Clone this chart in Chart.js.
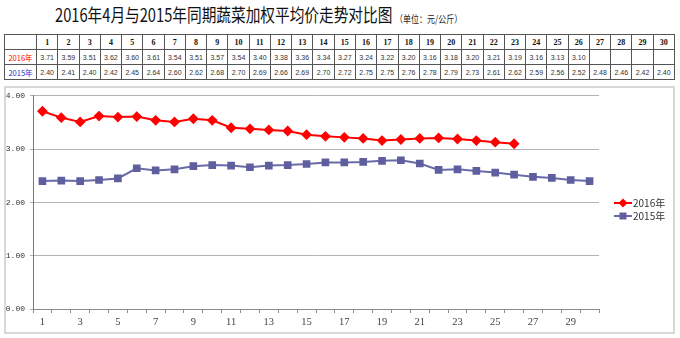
<!DOCTYPE html>
<html>
<head>
<meta charset="utf-8">
<script src="https://cdn.jsdelivr.net/npm/chart.js@4"></script>
<style>
  html, body { margin: 0; padding: 0; background: #fff; }
  body { width: 680px; height: 338px; position: relative; overflow: hidden; font-family: "Noto Sans CJK SC", sans-serif; }
  #title { position: absolute; left: 55px; top: 3px; font-size: 18px; color: #111; white-space: nowrap;
           transform: scaleX(0.815); transform-origin: left top; line-height: 22px; }
  #unit { position: absolute; left: 395px; top: 12px; font-size: 10px; color: #222; white-space: nowrap;
          transform: scaleX(0.8); transform-origin: left top; line-height: 14px; }
  #table { position: absolute; left: 4px; top: 34px; width: 671px; border-collapse: collapse; table-layout: fixed; }
  #table td { border: 1px solid #555; height: 14px; padding: 0; text-align: center; font-family: "Liberation Sans", sans-serif;
              font-size: 7px; color: #333; white-space: nowrap; overflow: hidden; }
  #table tr.head td { font-family: "Liberation Serif", serif; font-weight: bold; font-size: 8px; color: #111; }
  #table td.lab { font-family: "Noto Sans CJK SC", sans-serif; font-size: 7.5px; }
  #box { position: absolute; left: 4px; top: 86px; width: 671px; height: 248px; border: 2px solid #d8d8d8; box-sizing: border-box; }
  #chart { position: absolute; left: 4px; top: 86px; }
</style>
</head>
<body>
<div id="title">2016年4月与2015年同期蔬菜加权平均价走势对比图</div>
<div id="unit">（单位：元/公斤）</div>
<table id="table"></table>
<div id="box"></div>
<canvas id="chart" width="670" height="247"></canvas>
<script>
const days = ['1','2','3','4','5','6','7','8','9','10','11','12','13','14','15','16','17','18','19','20','21','22','23','24','25','26','27','28','29','30'];
const price2016 = [3.71,3.59,3.51,3.62,3.60,3.61,3.54,3.51,3.57,3.54,3.40,3.38,3.36,3.34,3.27,3.24,3.22,3.20,3.16,3.18,3.20,3.21,3.19,3.16,3.13,3.10];
const price2015 = [2.40,2.41,2.40,2.42,2.45,2.64,2.60,2.62,2.68,2.70,2.69,2.66,2.69,2.70,2.72,2.75,2.75,2.76,2.78,2.79,2.73,2.61,2.62,2.59,2.56,2.52,2.48,2.46,2.42,2.40];
const seriesNames = ['2016年', '2015年'];
const yTicks = [0, 1, 2, 3, 4];

const red = '#ff0000';
const purple = '#5f5f9f';

// table above the chart
const table = document.getElementById('table');
let html = '<colgroup><col style="width:32px">' + days.map(() => '<col>').join('') + '</colgroup>';
html += '<tr class="head"><td></td>' + days.map(d => `<td>${d}</td>`).join('') + '</tr>';
html += `<tr><td class="lab" style="color:${red}">${seriesNames[0]}</td>` +
        days.map((d, i) => `<td>${price2016[i] !== undefined ? price2016[i].toFixed(2) : ''}</td>`).join('') + '</tr>';
html += `<tr><td class="lab" style="color:#2b2bd0">${seriesNames[1]}</td>` +
        days.map((d, i) => `<td>${price2015[i] !== undefined ? price2015[i].toFixed(2) : ''}</td>`).join('') + '</tr>';
table.innerHTML = html;

// legend: line - marker - line, then label
const legendPlugin = {
    id: 'sideLegend',
    afterDraw(chart) {
        const ctx = chart.ctx;
        const x0 = 610, y0 = 117, gap = 13;
        chart.data.datasets.forEach((ds, i) => {
            const y = y0 + i * gap;
            ctx.save();
            ctx.strokeStyle = ds.borderColor;
            ctx.lineWidth = 2;
            ctx.beginPath();
            ctx.moveTo(x0, y);
            ctx.lineTo(x0 + 18, y);
            ctx.stroke();
            ctx.fillStyle = ds.pointBackgroundColor;
            ctx.beginPath();
            if (ds.pointStyle === 'rect') {
                ctx.rect(x0 + 5.5, y - 3.5, 7, 7);
            } else {
                ctx.moveTo(x0 + 9, y - 4.5);
                ctx.lineTo(x0 + 13.5, y);
                ctx.lineTo(x0 + 9, y + 4.5);
                ctx.lineTo(x0 + 4.5, y);
                ctx.closePath();
            }
            ctx.fill();
            ctx.fillStyle = '#333';
            ctx.font = '10px "Noto Sans CJK SC"';
            ctx.textBaseline = 'middle';
            ctx.fillText(ds.label, x0 + 19, y);
            ctx.restore();
        });
    }
};

new Chart(document.getElementById('chart').getContext('2d'), {
    type: 'line',
    data: {
        labels: days,
        datasets: [{
            label: seriesNames[0],
            data: price2016,
            borderColor: red,
            backgroundColor: red,
            pointBackgroundColor: red,
            pointBorderColor: red,
            pointStyle: 'rectRot',
            pointRadius: 4,
            borderWidth: 2,
            tension: 0,
            fill: false
        }, {
            label: seriesNames[1],
            data: price2015,
            borderColor: '#6a6aa8',
            backgroundColor: purple,
            pointBackgroundColor: purple,
            pointBorderColor: purple,
            pointStyle: 'rect',
            pointRadius: 4,
            borderWidth: 2,
            tension: 0,
            fill: false
        }]
    },
    options: {
        responsive: false,
        animation: false,
        layout: { padding: { top: 9, right: 75, bottom: 0, left: 0 } },
        plugins: { legend: { display: false }, tooltip: { enabled: false } },
        scales: {
            x: {
                offset: true,
                afterFit(scale) { scale.height = 24; },
                grid: { offset: true, drawOnChartArea: false, drawTicks: true, tickLength: 4, color: '#8c8c8c' },
                border: { color: '#8c8c8c', width: 1 },
                ticks: {
                    autoSkip: false,
                    maxRotation: 0,
                    padding: 3,
                    color: '#444',
                    font: { family: '"Liberation Serif", serif', size: 10.5 },
                    callback(value, index) { return index % 2 === 0 ? days[index] : ''; }
                }
            },
            y: {
                min: yTicks[0],
                max: yTicks[yTicks.length - 1],
                afterFit(scale) { scale.width = 29; },
                afterBuildTicks(scale) { scale.ticks = yTicks.map(v => ({ value: v })); },
                grid: { color: '#b4b4b4', lineWidth: 1, tickLength: 3, drawTicks: true },
                border: { color: '#777', width: 1 },
                ticks: {
                    padding: 5,
                    color: '#333',
                    font: { family: '"Liberation Mono", monospace', size: 8 },
                    callback(value) { return value.toFixed(2); }
                }
            }
        }
    },
    plugins: [legendPlugin]
});
</script>
</body>
</html>
